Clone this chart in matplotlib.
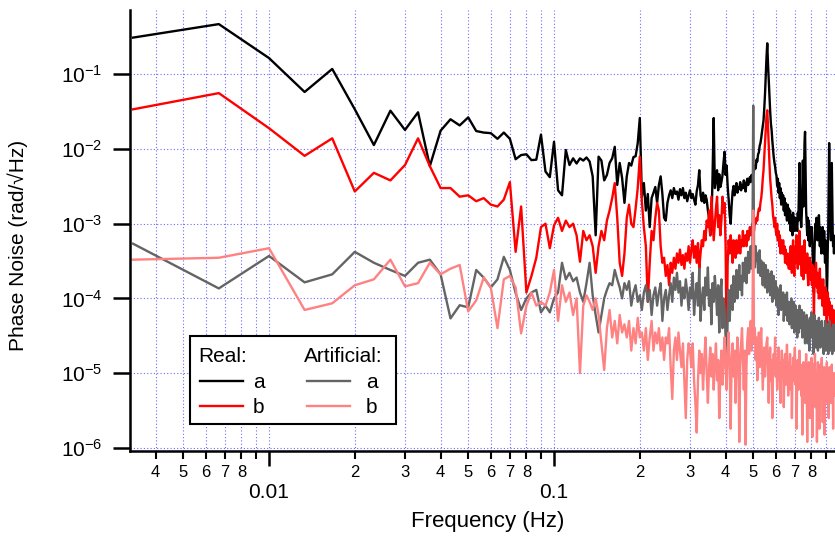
import numpy as np
import matplotlib
matplotlib.use("Agg")
import matplotlib.pyplot as plt
from matplotlib.lines import Line2D
from matplotlib.patches import Rectangle
from matplotlib.ticker import FixedLocator, FuncFormatter, NullLocator, LogLocator

plt.rcParams['font.family'] = ['Liberation Sans', 'DejaVu Sans']
plt.rcParams['mathtext.fontset'] = 'custom'
plt.rcParams['mathtext.rm'] = 'Liberation Sans'

# frequency bins: k / 300 s, k = 1..290
freq = np.arange(1, 291) / 300.0

# Real: a (black)
real_a = [
    3.1e-1, 4.7e-1, 1.65e-1, 5.8e-2, 1.18e-1, 3.4e-2, 1.13e-2, 3.26e-2, 1.8e-2, 3.1e-2,
    5.9e-3, 1.76e-2, 2.5e-2, 2.07e-2, 2.65e-2, 1.74e-2, 1.66e-2, 1.63e-2, 1.37e-2, 1.66e-2,
    1.37e-2, 7.3e-3, 8.3e-3, 8.5e-3, 7.1e-3, 7.2e-3, 1.56e-2, 5.0e-3, 4.2e-3, 1.25e-2,
    2.8e-3, 2.4e-3, 9.7e-3, 6.1e-3, 7.5e-3, 6.4e-3, 7.5e-3, 7.0e-3, 7.7e-3, 6.8e-3,
    4.3e-3, 7.0e-4, 7.9e-3, 7.0e-3, 3.8e-3, 4.5e-3, 6.5e-3, 7.5e-3, 1.07e-2, 3.3e-3,
    6.5e-3, 4.1e-3, 1.9e-3, 4.3e-3, 6.5e-3, 6.0e-3, 7.8e-3, 8.0e-3, 1.2e-2, 2.6e-2,
    2.3e-3, 3.5e-3, 1.5e-3, 2.5e-3, 9.0e-4, 2.2e-3, 2.6e-3, 3.1e-3, 1.9e-3, 3.3e-3,
    4.3e-3, 2.5e-3, 1.2e-3, 1.1e-3, 1.9e-3, 2.4e-3, 2.8e-3, 2.2e-3, 3.0e-3, 2.5e-3,
    2.7e-3, 2.1e-3, 2.9e-3, 2.4e-3, 3.0e-3, 2.2e-3, 2.6e-3, 2.0e-3, 2.4e-3, 2.8e-3,
    2.2e-3, 2.5e-3, 2.1e-3, 1.8e-3, 2.7e-3, 3.3e-3, 5.2e-3, 2.4e-3, 2.0e-3, 2.6e-3,
    1.9e-3, 2.4e-3, 2.1e-3, 1.5e-3, 1.2e-3, 7.0e-4, 9.0e-4, 4.5e-3, 2.6e-2, 3.0e-3,
    4.0e-3, 5.2e-3, 2.8e-3, 4.6e-3, 3.1e-3, 3.6e-3, 4.4e-3, 6.6e-3, 9.2e-3, 4.5e-3,
    6.0e-3, 3.2e-3, 2.1e-3, 1.3e-3, 1.0e-3, 1.8e-3, 2.7e-3, 3.2e-3, 2.4e-3, 3.0e-3,
    3.5e-3, 2.6e-3, 3.1e-3, 2.9e-3, 3.6e-3, 2.8e-3, 3.3e-3, 3.0e-3, 3.8e-3, 3.2e-3,
    2.7e-3, 3.5e-3, 4.0e-3, 3.3e-3, 3.7e-3, 4.2e-3, 3.6e-3, 4.5e-3, 4.0e-3, 4.8e-3,
    5.2e-3, 6.0e-3, 5.5e-3, 7.2e-3, 6.8e-3, 8.5e-3, 9.0e-3, 1.1e-2, 1.2e-2, 1.4e-2,
    1.7e-2, 2.0e-2, 2.4e-2, 3.5e-2, 5.5e-2, 1.0e-1, 1.7e-1, 2.6e-1, 1.4e-1, 8.5e-2,
    5.0e-2, 3.2e-2, 2.2e-2, 1.8e-2, 1.3e-2, 1.0e-2, 7.8e-3, 6.6e-3, 5.8e-3, 4.8e-3,
    4.4e-3, 3.2e-3, 4.0e-3, 2.6e-3, 3.5e-3, 2.2e-3, 3.0e-3, 1.8e-3, 2.6e-3, 2.0e-3,
    2.4e-3, 1.5e-3, 2.2e-3, 1.3e-3, 1.9e-3, 1.6e-3, 1.1e-3, 1.8e-3, 1.2e-3, 1.6e-3,
    1.0e-3, 1.5e-3, 8.0e-4, 1.3e-3, 1.1e-3, 7.0e-4, 1.4e-3, 9.0e-4, 1.2e-3, 8.0e-4,
    1.2e-3, 9.0e-4, 1.0e-3, 8.0e-4, 1.4e-3, 1.1e-3, 2.5e-3, 6.5e-3, 3.0e-3, 1.2e-3,
    9.0e-4, 1.3e-3, 2.2e-3, 7.0e-3, 1.7e-3, 4.0e-3, 1.2e-2, 1.7e-2, 5.0e-3, 1.5e-3,
    1.0e-3, 7.0e-4, 1.2e-3, 6.0e-4, 1.1e-3, 8.0e-4, 5.0e-4, 9.0e-4, 7.0e-4, 6.0e-4,
    9.0e-4, 5.0e-4, 3.0e-4, 1.5e-4, 1.2e-4, 4.0e-4, 7.0e-4, 1.0e-3, 8.0e-4, 1.2e-3,
    9.0e-4, 6.0e-4, 1.0e-3, 7.0e-4, 1.3e-3, 8.0e-4, 5.0e-4, 9.0e-4, 6.0e-4, 4.0e-4,
    7.0e-4, 5.0e-4, 9.0e-4, 6.0e-4, 4.0e-4, 8.0e-4, 5.0e-4, 3.0e-4, 6.0e-4, 4.0e-4,
    2.5e-4, 1.0e-4, 2.0e-4, 5.0e-4, 9.0e-4, 3.0e-3, 1.2e-2, 4.0e-3, 1.5e-3, 8.0e-4,
    6.0e-4, 9.0e-4, 6.5e-3, 2.0e-3, 8.0e-4, 5.0e-4, 7.0e-4, 4.0e-4, 6.0e-4, 5.0e-4,
]

# Real: b (red)
real_b = [
    3.4e-2, 5.6e-2, 1.9e-2, 8.1e-3, 1.39e-2, 2.7e-3, 4.8e-3, 3.8e-3, 6.1e-3, 1.39e-2,
    5.9e-3, 3.0e-3, 3.0e-3, 2.3e-3, 2.4e-3, 2.0e-3, 2.2e-3, 1.8e-3, 1.7e-3, 2.1e-3,
    3.6e-3, 4.2e-4, 1.7e-3, 1.2e-4, 2.0e-4, 3.5e-4, 9.0e-4, 1.0e-3, 4.7e-4, 9.5e-4,
    1.2e-3, 8.0e-4, 1.1e-3, 9.0e-4, 1.0e-3, 7.0e-4, 3.1e-4, 8.0e-4, 6.0e-4, 7.0e-4,
    5.0e-4, 2.2e-4, 5.0e-4, 8.0e-4, 6.0e-4, 1.1e-3, 1.5e-3, 2.2e-3, 3.5e-3, 1.2e-3,
    3.0e-4, 2.0e-4, 4.0e-4, 1.2e-3, 1.8e-3, 1.0e-3, 9.0e-4, 1.6e-3, 3.0e-3, 7.9e-3,
    2.0e-3, 9.0e-4, 5.0e-4, 9.0e-5, 3.0e-4, 8.0e-4, 6.0e-4, 1.2e-3, 1.9e-3, 1.5e-3,
    5.0e-4, 3.0e-4, 3.5e-4, 2.0e-4, 2.8e-4, 1.5e-4, 3.0e-4, 2.2e-4, 3.5e-4, 2.5e-4,
    4.0e-4, 3.0e-4, 4.5e-4, 2.8e-4, 3.8e-4, 2.5e-4, 4.0e-4, 3.2e-4, 5.0e-4, 3.0e-4,
    4.5e-4, 6.0e-4, 3.5e-4, 5.0e-4, 3.0e-4, 5.5e-4, 2.5e-4, 4.0e-4, 6.0e-4, 5.0e-4,
    8.0e-4, 6.0e-4, 1.1e-3, 9.0e-4, 1.5e-3, 7.0e-4, 2.3e-3, 1.2e-3, 6.0e-4, 1.0e-3,
    1.6e-3, 2.3e-3, 9.0e-4, 1.3e-3, 7.0e-4, 1.1e-3, 2.3e-3, 1.4e-3, 1.9e-3, 5.0e-4,
    2.2e-5, 3.0e-4, 6.0e-4, 4.0e-4, 7.0e-4, 5.0e-4, 3.0e-4, 6.0e-4, 4.0e-4, 3.5e-4,
    6.0e-4, 4.0e-4, 5.0e-4, 7.0e-4, 4.0e-4, 6.0e-4, 5.0e-4, 8.0e-4, 5.0e-4, 6.0e-4,
    7.0e-4, 5.0e-4, 8.0e-4, 6.0e-4, 7.0e-4, 9.0e-4, 7.0e-4, 8.0e-4, 1.0e-3, 9.0e-4,
    8.0e-4, 1.1e-3, 1.0e-3, 1.2e-3, 1.1e-3, 1.4e-3, 1.6e-3, 1.5e-3, 1.9e-3, 2.2e-3,
    2.8e-3, 4.0e-3, 5.2e-3, 8.0e-3, 1.3e-2, 2.0e-2, 2.8e-2, 3.3e-2, 2.0e-2, 1.1e-2,
    6.5e-3, 4.0e-3, 3.0e-3, 2.2e-3, 1.8e-3, 1.3e-3, 1.1e-3, 9.0e-4, 1.2e-3, 8.0e-4,
    7.0e-4, 1.0e-3, 6.0e-4, 8.0e-4, 5.0e-4, 7.0e-4, 4.0e-4, 6.0e-4, 5.0e-4, 4.0e-4,
    6.0e-4, 4.0e-4, 5.0e-4, 3.0e-4, 4.5e-4, 3.0e-4, 4.0e-4, 2.8e-4, 3.5e-4, 2.5e-4,
    4.0e-4, 2.5e-4, 5.0e-4, 3.0e-4, 2.2e-4, 4.0e-4, 6.0e-4, 3.0e-4, 2.0e-4, 3.5e-4,
    5.0e-4, 3.0e-4, 7.0e-4, 4.0e-4, 2.5e-4, 5.0e-4, 3.0e-4, 8.0e-4, 4.0e-4, 2.8e-4,
    3.5e-4, 2.0e-4, 5.0e-4, 3.0e-4, 1.8e-4, 4.0e-4, 6.0e-4, 3.0e-4, 2.2e-4, 3.5e-4,
    2.5e-4, 4.0e-4, 2.0e-4, 1.5e-4, 3.0e-4, 2.0e-4, 3.5e-4, 1.8e-4, 3.0e-4, 2.2e-4,
    1.5e-4, 2.8e-4, 2.0e-4, 1.2e-4, 6.0e-5, 1.8e-4, 2.5e-4, 1.5e-4, 3.0e-4, 2.0e-4,
    1.4e-4, 2.2e-4, 1.2e-4, 1.8e-4, 1.0e-4, 1.6e-4, 2.5e-4, 1.2e-4, 1.8e-4, 1.0e-4,
    1.4e-4, 8.0e-5, 1.2e-4, 1.8e-4, 1.0e-4, 6.0e-5, 1.1e-4, 8.0e-5, 1.4e-4, 9.0e-5,
    5.0e-5, 4.0e-5, 8.0e-5, 1.2e-4, 7.0e-5, 1.0e-4, 6.0e-5, 9.0e-5, 5.0e-5, 4.0e-5,
    7.0e-5, 5.0e-5, 8.0e-5, 4.5e-5, 6.0e-5, 4.0e-5, 7.0e-5, 5.0e-5, 4.0e-5, 5.0e-5,
]

# Artificial: a (grey)
art_a = [
    5.4e-4, 1.36e-4, 3.7e-4, 1.64e-4, 2.1e-4, 4.2e-4, 3.0e-4, 2.4e-4, 2.0e-4, 3.0e-4,
    3.3e-4, 2.1e-4, 5.4e-5, 8.1e-5, 7.6e-5, 2.4e-4, 1.9e-4, 1.4e-4, 1.8e-4, 3.6e-4,
    2.4e-4, 1.18e-4, 7.0e-5, 1.0e-4, 1.2e-4, 1.3e-4, 6.5e-5, 8.0e-5, 6.5e-5, 1.0e-4,
    1.2e-4, 3.0e-4, 1.8e-4, 2.2e-4, 1.7e-4, 1.9e-4, 1.2e-4, 9.0e-5, 1.6e-4, 3.0e-4,
    1.1e-4, 6.0e-5, 3.5e-5, 6.0e-5, 1.0e-4, 1.3e-4, 1.6e-4, 1.5e-4, 2.4e-4, 1.8e-4,
    1.4e-4, 1.0e-4, 1.6e-4, 1.3e-4, 1.7e-4, 8.0e-5, 1.2e-4, 1.5e-4, 9.0e-5, 1.1e-4,
    7.0e-5, 1.2e-4, 1.5e-4, 9.0e-5, 1.3e-4, 6.0e-5, 1.1e-4, 1.4e-4, 8.0e-5, 1.2e-4,
    1.6e-4, 5.0e-5, 1.0e-4, 1.3e-4, 7.0e-5, 1.1e-4, 1.6e-4, 9.0e-5, 1.9e-4, 1.3e-4,
    2.2e-4, 1.2e-4, 1.7e-4, 8.0e-5, 1.4e-4, 1.0e-4, 1.8e-4, 1.2e-4, 7.0e-5, 1.4e-4,
    1.0e-4, 2.2e-4, 6.0e-5, 1.1e-4, 1.6e-4, 8.0e-5, 2.5e-4, 5.0e-5, 1.0e-4, 1.4e-4,
    7.0e-5, 1.9e-4, 1.1e-4, 2.6e-4, 8.0e-5, 1.3e-4, 4.5e-5, 1.6e-4, 9.0e-5, 2.0e-4,
    1.2e-4, 6.0e-5, 1.5e-4, 3.5e-5, 1.1e-4, 1.8e-4, 4.0e-5, 1.0e-4, 7.0e-5, 3.0e-5,
    8.0e-6, 6.0e-5, 1.3e-4, 5.0e-5, 1.1e-4, 1.5e-4, 7.0e-5, 2.0e-4, 9.0e-5, 1.2e-4,
    2.4e-4, 1.0e-4, 1.6e-4, 2.8e-4, 1.3e-4, 2.0e-4, 1.1e-4, 3.0e-4, 1.7e-4, 2.3e-4,
    3.5e-4, 1.6e-4, 2.6e-4, 4.2e-4, 2.2e-4, 3.0e-4, 5.0e-4, 2.5e-4, 3.8e-4, 3.8e-2,
    4.5e-4, 2.6e-4, 5.0e-4, 3.2e-4, 4.0e-4, 2.2e-4, 3.6e-4, 4.4e-4, 2.0e-4, 3.2e-4,
    2.5e-4, 1.5e-4, 3.0e-4, 2.2e-4, 1.4e-4, 2.8e-4, 1.9e-4, 1.2e-4, 2.4e-4, 1.6e-4,
    2.1e-4, 1.1e-4, 1.8e-4, 2.3e-4, 9.0e-5, 1.5e-4, 2.0e-4, 1.0e-4, 1.3e-4, 1.7e-4,
    8.0e-5, 1.4e-4, 1.1e-4, 6.0e-5, 1.3e-4, 9.0e-5, 1.5e-4, 7.0e-5, 1.1e-4, 8.0e-5,
    1.2e-4, 5.0e-5, 9.0e-5, 1.1e-4, 6.0e-5, 8.0e-5, 1.2e-4, 5.0e-5, 7.0e-5, 9.0e-5,
    4.5e-5, 8.0e-5, 6.0e-5, 1.0e-4, 4.0e-5, 7.0e-5, 5.0e-5, 9.0e-5, 3.5e-5, 6.0e-5,
    8.0e-5, 4.0e-5, 6.5e-5, 3.0e-5, 7.0e-5, 5.0e-5, 3.5e-5, 8.0e-5, 4.0e-5, 6.0e-5,
    4.0e-5, 7.0e-5, 3.0e-5, 5.0e-5, 3.5e-5, 6.5e-5, 4.0e-5, 2.5e-5, 5.5e-5, 3.5e-5,
    6.0e-5, 4.0e-5, 2.5e-5, 5.0e-5, 4.0e-5, 2.0e-5, 5.5e-5, 3.0e-5, 4.5e-5, 6.5e-5,
    3.0e-5, 5.0e-5, 3.5e-5, 1.8e-5, 4.0e-5, 6.0e-5, 3.0e-5, 4.0e-5, 2.2e-5, 5.0e-5,
    3.0e-5, 4.5e-5, 2.0e-5, 3.5e-5, 5.5e-5, 3.0e-5, 4.0e-5, 2.2e-5, 4.5e-5, 3.0e-5,
    5.0e-5, 2.5e-5, 4.0e-5, 3.0e-5, 1.8e-5, 4.0e-5, 3.0e-5, 5.0e-5, 2.0e-5, 3.5e-5,
    3.0e-5, 4.5e-5, 2.5e-5, 3.0e-5, 1.8e-5, 3.5e-5, 3.0e-5, 5.0e-5, 2.0e-5, 3.0e-5,
    2.5e-5, 4.0e-5, 3.0e-5, 1.8e-5, 3.5e-5, 2.5e-5, 4.5e-5, 3.0e-5, 2.0e-5, 3.5e-5,
]

# Artificial: b (pink)
art_b = [
    3.3e-4, 3.5e-4, 4.7e-4, 7.0e-5, 8.6e-5, 1.5e-4, 1.8e-4, 3.3e-4, 1.45e-4, 1.6e-4,
    3.0e-4, 2.1e-4, 2.5e-4, 2.8e-4, 6.7e-5, 9.4e-5, 1.9e-4, 1.4e-4, 4.0e-5, 1.8e-4,
    2.0e-4, 1.4e-4, 3.4e-5, 8.0e-5, 1.2e-4, 8.0e-5, 9.0e-5, 8.0e-5, 1.2e-4, 2.4e-4,
    5.0e-5, 1.5e-4, 9.0e-5, 1.2e-4, 6.0e-5, 1.0e-4, 1.0e-5, 8.0e-5, 1.1e-4, 9.0e-5,
    7.0e-5, 1.0e-4, 6.0e-5, 2.5e-5, 1.1e-5, 4.0e-5, 7.0e-5, 3.0e-5, 5.0e-5, 2.5e-5,
    6.0e-5, 3.5e-5, 4.5e-5, 3.0e-5, 5.0e-5, 2.0e-5, 4.0e-5, 2.5e-5, 5.5e-5, 3.0e-5,
    3.5e-5, 2.0e-5, 4.0e-5, 1.5e-5, 3.0e-5, 5.0e-5, 2.0e-5, 3.5e-5, 2.5e-5, 4.0e-5,
    2.0e-5, 3.0e-5, 1.5e-5, 3.0e-5, 2.5e-5, 4.0e-5, 1.2e-5, 4.5e-6, 2.0e-5, 3.0e-5,
    1.5e-5, 3.5e-5, 2.0e-5, 1.2e-5, 2.5e-5, 8.0e-6, 2.5e-6, 1.5e-5, 2.5e-5, 2.0e-5,
    1.2e-5, 2.5e-5, 8.0e-6, 4.0e-6, 1.6e-6, 8.0e-6, 2.0e-5, 1.0e-5, 1.8e-5, 6.0e-6,
    1.5e-5, 3.0e-5, 1.0e-5, 4.0e-6, 1.2e-5, 2.2e-5, 9.0e-6, 1.8e-5, 6.0e-6, 1.4e-5,
    2.5e-5, 8.0e-6, 1.5e-5, 2.5e-6, 1.0e-5, 2.0e-5, 7.0e-6, 1.6e-5, 3.0e-5, 1.2e-5,
    6.0e-6, 2.0e-5, 3.5e-5, 1.2e-5, 1.8e-6, 1.5e-5, 2.5e-5, 9.0e-6, 2.0e-5, 4.0e-6,
    1.4e-5, 3.0e-5, 1.8e-5, 1.2e-6, 1.2e-5, 2.5e-5, 4.0e-5, 1.5e-5, 6.0e-6, 2.0e-5,
    1.1e-6, 1.2e-5, 2.8e-5, 4.0e-5, 1.8e-5, 3.0e-5, 5.0e-5, 2.0e-5, 3.5e-5, 1.5e-3,
    2.5e-5, 4.0e-5, 1.5e-5, 3.0e-5, 8.0e-6, 2.0e-5, 3.5e-5, 1.2e-5, 2.5e-5, 4.0e-5,
    1.5e-5, 6.0e-6, 1.2e-5, 2.2e-5, 9.0e-6, 1.6e-5, 2.5e-5, 3.0e-5, 1.2e-5, 4.0e-6,
    1.4e-5, 2.2e-5, 8.0e-6, 1.5e-5, 2.5e-6, 1.0e-5, 1.8e-5, 1.2e-5, 3.0e-5, 9.0e-6,
    1.6e-5, 6.0e-6, 1.2e-5, 2.2e-5, 8.0e-6, 1.4e-5, 4.0e-6, 1.1e-5, 2.0e-5, 9.0e-6,
    1.5e-5, 3.5e-6, 1.2e-5, 1.8e-5, 7.0e-6, 1.3e-5, 2.4e-5, 1.0e-5, 5.0e-6, 1.4e-5,
    9.0e-6, 1.8e-5, 6.0e-6, 1.2e-5, 2.5e-6, 1.0e-5, 1.6e-5, 8.0e-6, 1.3e-5, 2.2e-5,
    7.0e-6, 1.2e-5, 1.8e-6, 9.0e-6, 1.5e-5, 6.0e-6, 1.1e-5, 2.0e-5, 8.0e-6, 1.3e-5,
    5.0e-6, 1.0e-5, 1.5e-6, 9.0e-6, 1.4e-5, 7.0e-6, 1.2e-5, 4.0e-6, 1.0e-5, 1.8e-5,
    8.0e-6, 1.2e-6, 1.1e-5, 6.0e-6, 1.4e-5, 9.0e-6, 2.5e-6, 1.2e-5, 7.0e-6, 1.6e-5,
    9.0e-6, 1.4e-6, 1.0e-5, 5.0e-6, 1.3e-5, 8.0e-6, 1.8e-5, 3.5e-6, 1.0e-5, 7.0e-6,
    1.2e-6, 9.0e-6, 1.4e-5, 6.0e-6, 1.1e-5, 1.8e-6, 8.0e-6, 1.3e-5, 5.0e-6, 1.0e-5,
    1.6e-5, 7.0e-6, 2.2e-6, 1.0e-5, 6.0e-6, 1.2e-5, 1.5e-6, 8.0e-6, 1.1e-5, 5.0e-6,
    9.0e-6, 1.4e-5, 4.0e-6, 1.0e-5, 7.0e-6, 2.5e-6, 9.0e-6, 1.2e-5, 6.0e-6, 1.0e-5,
    4.0e-6, 8.0e-6, 1.3e-5, 5.0e-6, 9.0e-6, 1.8e-6, 7.0e-6, 1.0e-5, 5.0e-6, 8.0e-6,
]

W, H = 835, 537
fig = plt.figure(figsize=(W / 100, H / 100), dpi=100)
ax = fig.add_axes([130 / W, 1 - 451 / H, 705 / W, 441 / H])

ax.plot(freq, real_a, color='black', lw=1.7)
ax.plot(freq, real_b, color='#ff0000', lw=1.7)
ax.plot(freq, art_a, color='#646464', lw=1.7)
ax.plot(freq, art_b, color='#ff8282', lw=1.7)

ax.set_xscale('log')
ax.set_yscale('log')
ax.set_xlim(0.003253, 0.968)
ax.set_ylim(9.06e-7, 0.726)

for s in ['top', 'right']:
    ax.spines[s].set_visible(False)
for s in ['left', 'bottom']:
    ax.spines[s].set_linewidth(1.8)

# y axis: decades only
ax.yaxis.set_major_locator(FixedLocator([1e-6, 1e-5, 1e-4, 1e-3, 1e-2, 1e-1]))
ax.yaxis.set_minor_locator(NullLocator())
ax.yaxis.set_major_formatter(FuncFormatter(
    lambda v, p: r'$\mathregular{10^{%d}}$' % int(round(np.log10(v)))))
ax.tick_params(axis='y', which='major', length=12, width=1.8, labelsize=15, pad=8)

# x axis: labelled minor ticks 2..8
ax.xaxis.set_major_locator(FixedLocator([0.01, 0.1]))
ax.xaxis.set_minor_locator(LogLocator(base=10, subs=np.arange(2, 10)))
ax.xaxis.set_major_formatter(FuncFormatter(lambda v, p: '%g' % v))


def minor_label(v, p):
    d = int(round(v / 10 ** np.floor(np.log10(v) + 1e-9)))
    return str(d) if d < 9 else ''


ax.xaxis.set_minor_formatter(FuncFormatter(minor_label))
ax.tick_params(axis='x', which='major', length=11, width=1.8, labelsize=15, pad=12)
ax.tick_params(axis='x', which='minor', length=6, width=1.5, labelsize=12, pad=4)

grid_kw = dict(color='#6b6bff', linestyle=(0, (1, 2)), linewidth=0.8)
ax.grid(True, which='both', axis='x', **grid_kw)
ax.grid(True, which='major', axis='y', **grid_kw)
ax.set_axisbelow(True)

ax.set_xlabel('Frequency (Hz)', fontsize=16)
ax.set_ylabel('Phase Noise (rad/\u221aHz)', fontsize=15)
ax.xaxis.set_label_coords(0.507, -0.135)
ax.yaxis.set_label_coords(-0.145, 0.465)

# legend box drawn by hand (two columns with headers)
def fx(x):
    return x / W


def fy(y):
    return 1 - y / H


fig.add_artist(Rectangle((fx(190), fy(424)), fx(396) - fx(190), fy(336) - fy(424),
                         transform=fig.transFigure, facecolor='white',
                         edgecolor='black', lw=1.5, zorder=5))
fig.text(fx(198), fy(362), 'Real:', fontsize=15, zorder=6)
fig.text(fx(304), fy(362), 'Artificial:', fontsize=15, zorder=6)
for x0, x1, tx, col, lab, yy in [
        (200, 243, 253, 'black', 'a', 381), (200, 243, 253, '#ff0000', 'b', 406),
        (307, 350, 366, '#646464', 'a', 381), (307, 350, 366, '#ff8282', 'b', 406)]:
    fig.add_artist(Line2D([fx(x0), fx(x1)], [fy(yy), fy(yy)], transform=fig.transFigure,
                          color=col, lw=1.7, zorder=6))
    fig.text(fx(tx), fy(yy + 7), lab, fontsize=15, zorder=6)

fig.savefig('out.png', dpi=100)
